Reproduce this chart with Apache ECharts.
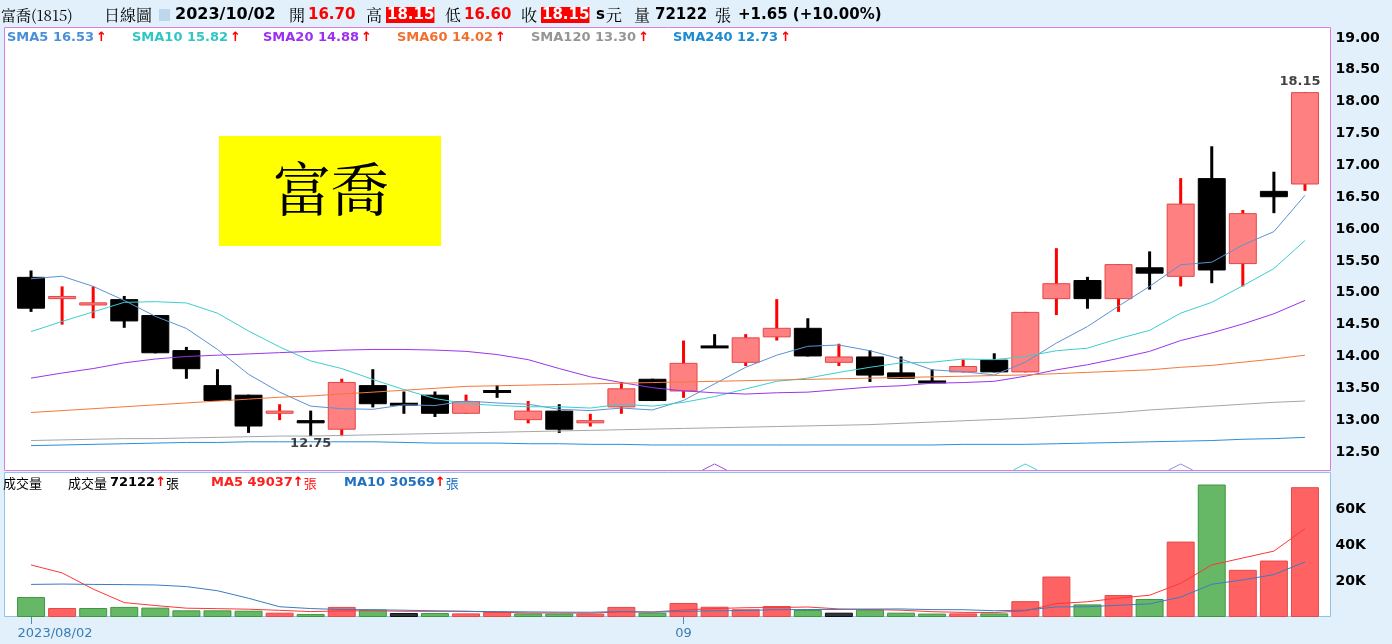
<!DOCTYPE html>
<html>
<head>
<meta charset="utf-8">
<script src="https://cdn.jsdelivr.net/npm/echarts@6.0.0/dist/echarts.min.js"></script>
<style>
html,body{margin:0;padding:0;background:#e1f0fb;}
#c{width:1392px;height:644px;}
</style>
</head>
<body>
<div id="c"></div>
<script>
// ---------------- data ----------------
const dates = ['2023/08/02','2023/08/04','2023/08/07','2023/08/08','2023/08/09','2023/08/10','2023/08/11',
  '2023/08/14','2023/08/15','2023/08/16','2023/08/17','2023/08/18','2023/08/21','2023/08/22','2023/08/23',
  '2023/08/24','2023/08/25','2023/08/28','2023/08/29','2023/08/30','2023/08/31',
  '2023/09/01','2023/09/04','2023/09/05','2023/09/06','2023/09/07','2023/09/08','2023/09/11','2023/09/12',
  '2023/09/13','2023/09/14','2023/09/15','2023/09/18','2023/09/19','2023/09/20','2023/09/21','2023/09/22',
  '2023/09/25','2023/09/26','2023/09/27','2023/09/28','2023/10/02'];
const opens  = [15.25,14.90,14.80,14.90,14.65,14.10,13.55,13.40,13.10,13.00,12.85,13.55,13.25,13.40,13.10,13.45,13.00,13.15,12.95,13.20,13.65,
                13.45,14.15,13.90,14.30,14.45,13.90,14.00,13.75,13.60,13.75,13.95,13.75,14.90,15.20,14.90,15.40,15.25,16.80,15.45,16.60,16.70];
const closes = [14.75,14.95,14.85,14.55,14.05,13.80,13.30,12.90,13.15,12.95,13.60,13.25,13.25,13.10,13.30,13.45,13.15,12.85,13.00,13.50,13.30,
                13.90,14.15,14.30,14.45,14.00,14.00,13.70,13.65,13.60,13.85,13.75,14.70,15.15,14.90,15.45,15.30,16.40,15.35,16.25,16.50,18.15];
const lows   = [14.70,14.50,14.60,14.45,14.05,13.65,13.30,12.80,13.00,12.75,12.75,13.20,13.10,13.05,13.10,13.35,12.95,12.80,12.90,13.10,13.30,
                13.35,14.15,13.85,14.25,14.00,13.85,13.60,13.65,13.60,13.75,13.75,13.75,14.65,14.75,14.70,15.05,15.10,15.15,15.10,16.25,16.60];
const highs  = [15.35,15.10,15.10,14.95,14.65,14.15,13.80,13.40,13.25,13.15,13.65,13.80,13.45,13.45,13.40,13.55,13.30,13.25,13.10,13.60,13.65,
                14.25,14.35,14.35,14.90,14.60,14.20,14.10,14.00,13.80,13.95,14.05,14.70,15.70,15.25,15.45,15.65,16.80,17.30,16.30,16.90,18.15];
const volumes = [11100,5000,5000,5600,5200,3700,3700,3500,2400,1700,5600,4100,2200,2200,2000,2800,2000,1900,1900,5600,2400,
                 7800,5700,4300,6100,3900,2400,4100,2400,1900,2000,2000,8800,22500,7000,12200,10000,41900,73600,26200,31363,72122];

const sma5   = [15.22,15.26,15.10,14.88,14.63,14.44,14.11,13.72,13.44,13.22,13.18,13.17,13.24,13.23,13.30,13.27,13.25,13.17,13.15,13.19,13.16,
                13.31,13.57,13.83,14.02,14.16,14.18,14.09,13.96,13.79,13.76,13.71,13.91,14.21,14.47,14.79,15.10,15.44,15.48,15.75,15.96,16.53];
const sma10  = [14.39,14.55,14.70,14.85,14.86,14.84,14.68,14.40,14.15,13.93,13.81,13.64,13.48,13.34,13.26,13.23,13.21,13.21,13.19,13.25,13.22,
                13.28,13.37,13.49,13.61,13.66,13.75,13.83,13.90,13.91,13.96,13.95,14.00,14.09,14.13,14.28,14.41,14.68,14.85,15.11,15.38,15.82];
const sma20  = [13.66,13.74,13.81,13.90,13.96,14.00,14.02,14.04,14.06,14.08,14.10,14.11,14.11,14.10,14.08,14.03,13.95,13.81,13.68,13.59,13.51,
                13.46,13.43,13.41,13.43,13.44,13.48,13.52,13.54,13.58,13.59,13.61,13.69,13.79,13.87,13.97,14.08,14.25,14.37,14.51,14.67,14.88];
const sma60  = [13.12,13.15,13.18,13.21,13.24,13.27,13.30,13.33,13.36,13.38,13.41,13.44,13.47,13.50,13.53,13.54,13.55,13.56,13.57,13.58,13.59,
                13.60,13.61,13.62,13.63,13.64,13.65,13.66,13.67,13.68,13.69,13.70,13.71,13.73,13.75,13.77,13.79,13.83,13.86,13.91,13.96,14.02];
const sma120 = [12.68,12.69,12.70,12.71,12.71,12.72,12.73,12.74,12.75,12.75,12.76,12.77,12.78,12.79,12.80,12.81,12.82,12.83,12.84,12.85,12.86,
                12.87,12.88,12.89,12.90,12.91,12.92,12.93,12.95,12.97,12.99,13.01,13.03,13.06,13.09,13.12,13.16,13.19,13.22,13.25,13.28,13.30];
const sma240 = [12.60,12.61,12.62,12.63,12.64,12.65,12.65,12.66,12.66,12.66,12.66,12.66,12.65,12.64,12.64,12.64,12.63,12.63,12.62,12.62,12.61,
                12.61,12.61,12.61,12.61,12.61,12.61,12.61,12.61,12.61,12.62,12.62,12.62,12.63,12.64,12.65,12.66,12.67,12.68,12.70,12.71,12.73];

const volMa5  = [28900,24500,15500,8000,6380,4900,4640,4340,3700,3000,3380,3460,3200,3160,3220,2660,2240,2180,2120,2840,2760,
                 3920,4680,5160,5260,5560,4480,4160,3780,2940,2560,2480,3420,7440,8460,10500,12100,18720,28940,32780,36613,49037];
const volMa10 = [18100,18300,18100,18000,17800,16900,14600,10400,5700,4690,4140,4050,3770,3430,3110,3020,2850,2690,2640,3030,2710,
                 3080,3430,3640,4050,4160,4200,4420,4470,4100,4060,3480,3790,5610,5700,6530,7290,11070,18190,20620,23556,30569];

const signalIdx = [22, 32, 37];           // small signal markers under the price panel
const priceMin = 12.5, priceMax = 19, priceStep = 0.5;
const volMin = 0, volMax = 80000, volStep = 20000;
const stockName = '富喬(1815)';
const bigTitle = '富喬';

// ---------------- styling ----------------
const N = dates.length, last = N - 1;
const LAT = '"DejaVu Sans", Verdana, sans-serif';
const CJK = '"Noto Sans CJK TC", "Noto Sans CJK SC", sans-serif';
const SERIF = '"Noto Serif CJK TC", "Noto Sans CJK TC", serif';
const C = {
  upFill:'#ff8080', upEdge:'#e54545', upWick:'#ff0000', dn:'#000000',
  sma5:'#5b93d3', sma10:'#3ccfcf', sma20:'#9a35ee', sma60:'#f27a3c', sma120:'#a6a6a6', sma240:'#2a8fd2',
  lg5:'#4a90d9', lg10:'#2fc6c6', lg20:'#9b30f0', lg60:'#f07030', lg120:'#959595', lg240:'#1d8bd1',
  volMa5:'#ff3636', volMa10:'#3b7bc4'
};
const signalColors = ['#a050e0', '#45d2d2', '#8d8fe0'];

const candleData = dates.map((d, i) => [i, opens[i], closes[i], lows[i], highs[i]]);

function renderCandle(params, api) {
  const i = api.value(0), o = api.value(1), c = api.value(2), l = api.value(3), h = api.value(4);
  const po = api.coord([i, o]), pc = api.coord([i, c]), pl = api.coord([i, l]), ph = api.coord([i, h]);
  const bw = api.size([1, 0])[0] * 0.9;
  const x = po[0];
  const up = c > o;
  const children = [];
  children.push({ type:'rect', shape:{ x:x - 1.5, y:ph[1], width:3, height:Math.max(pl[1] - ph[1], 0.1) },
                  style:{ fill: up ? C.upWick : C.dn } });
  if (Math.abs(c - o) < 1e-9) {
    children.push({ type:'rect', shape:{ x:x - bw / 2, y:po[1] - 1.5, width:bw, height:3 }, style:{ fill:C.dn } });
  } else {
    const top = Math.min(po[1], pc[1]), hh = Math.abs(po[1] - pc[1]);
    children.push({ type:'rect', shape:{ x:x - bw / 2 + 0.5, y:top + 0.5, width:bw - 1, height:Math.max(hh - 1, 1) },
                    style: up ? { fill:C.upFill, stroke:C.upEdge, lineWidth:1 } : { fill:C.dn, stroke:C.dn, lineWidth:1 } });
  }
  return { type:'group', children };
}

function renderSignal(params, api) {
  const i = api.value(0);
  const p = api.coord([i, priceMin]);
  const cs = params.coordSys;
  const yb = cs.y + cs.height + 18;
  return { type:'polyline', shape:{ points:[[p[0] - 12, yb], [p[0], yb - 6], [p[0] + 12, yb]] },
           style:{ stroke: signalColors[params.dataIndex % signalColors.length], fill:null, lineWidth:1 } };
}

const volData = volumes.map((v, i) => {
  const ref = i === 0 ? opens[0] : closes[i - 1];
  const d = Math.round((closes[i] - ref) * 100);
  const st = d > 0 ? { color:'#ff6262', borderColor:'#e44a4a' }
           : d < 0 ? { color:'#66b866', borderColor:'#3f983f' }
           : { color:'#30343c', borderColor:'#111111' };
  return { value:v, itemStyle:Object.assign({ borderWidth:1 }, st) };
});

const iMax = highs.indexOf(Math.max(...highs));
const iMin = lows.indexOf(Math.min(...lows));

function line(name, data, color, gi) {
  return { type:'line', name, data, xAxisIndex:gi, yAxisIndex:gi, symbol:'none', showSymbol:false,
           lineStyle:{ width:1, color }, itemStyle:{ color }, z:4, silent:true, animation:false };
}

function showTick(idx) {
  if (idx === 0) return true;
  return idx < N - 1 && dates[idx].slice(5, 7) !== dates[idx - 1].slice(5, 7);
}

// ---------------- header / legends (text) ----------------
const f2 = v => v.toFixed(2);
const chg = closes[last] - closes[last - 1];
const pct = chg / closes[last - 1] * 100;
function T(x, y, text, font, fill, extra) {
  return { type:'text', x, y, z:20,
           style:Object.assign({ text, font, fill, verticalAlign:'middle', textVerticalAlign:'middle', align:'left' }, extra || {}) };
}
const hy = 15;
const numFont = 'bold 15px ' + LAT;
const cjkFont = '16px ' + SERIF;
const graphics = [
  { type:'rect', z:0, shape:{ x:4.5, y:27.5, width:1326, height:443 }, style:{ fill:'#ffffff', stroke:'#dc7ee0', lineWidth:1 } },
  { type:'rect', z:0, shape:{ x:4.5, y:472.5, width:1326, height:144 }, style:{ fill:'#ffffff', stroke:'#8fc4e8', lineWidth:1 } },
  { type:'rect', z:1, shape:{ x:219, y:136, width:222, height:110 }, style:{ fill:'#ffff00' } },
  { type:'text', z:20, x:331, y:189, style:{ text:bigTitle, font:'58px ' + SERIF, fill:'#000',
      align:'center', textAlign:'center', verticalAlign:'middle', textVerticalAlign:'middle' } },
  T(1, hy, stockName, '15px ' + SERIF, '#000'),
  T(104, hy, '日線圖', cjkFont, '#000'),
  { type:'rect', z:20, shape:{ x:159, y:9, width:11, height:12 }, style:{ fill:'#bcd6ee' } },
  T(175, hy, dates[last], 'bold 16px ' + LAT, '#000'),
  T(289, hy, '開', cjkFont, '#000'),
  T(308, hy, f2(opens[last]), numFont, '#ff0000'),
  T(366, hy, '高', cjkFont, '#000'),
  T(386, hy, f2(highs[last]), numFont, '#ffffff', { backgroundColor:'#ff0000', padding:[1, 0, 0, 1] }),
  T(445, hy, '低', cjkFont, '#000'),
  T(464, hy, f2(lows[last]), numFont, '#ff0000'),
  T(521, hy, '收', cjkFont, '#000'),
  T(541, hy, f2(closes[last]), numFont, '#ffffff', { backgroundColor:'#ff0000', padding:[1, 0, 0, 1] }),
  T(596, hy, 's', numFont, '#000'),
  T(606, hy, '元', cjkFont, '#000'),
  T(634, hy, '量', cjkFont, '#000'),
  T(655, hy, String(volumes[last]), numFont, '#000'),
  T(715, hy, '張', cjkFont, '#000'),
  T(738, hy, (chg >= 0 ? '+' : '') + f2(chg) + ' (' + (pct >= 0 ? '+' : '') + f2(pct) + '%)', numFont, '#000')
];
const legendItems = [
  ['SMA5', sma5, C.lg5, 7], ['SMA10', sma10, C.lg10, 132], ['SMA20', sma20, C.lg20, 263],
  ['SMA60', sma60, C.lg60, 397], ['SMA120', sma120, C.lg120, 531], ['SMA240', sma240, C.lg240, 673]
];
legendItems.forEach(([n, arr, col, x]) => {
  const up = arr[last] >= arr[last - 1];
  graphics.push({ type:'text', z:20, x, y:37.5, style:{
    text:'{n|' + n + ' ' + f2(arr[last]) + '}{a|' + (up ? '↑' : '↓') + '}', verticalAlign:'middle', textVerticalAlign:'middle',
    rich:{ n:{ fill:col, font:'bold 13px ' + LAT }, a:{ fill:'#ff0000', font:'bold 13px ' + LAT, padding:[0, 0, 0, 2] } } } });
});
graphics.push({ type:'text', z:20, x:3, y:483, style:{ text:'成交量', font:'13px ' + CJK, fill:'#000', verticalAlign:'middle', textVerticalAlign:'middle' } });
graphics.push({ type:'text', z:20, x:68, y:483, style:{
  text:'{l|成交量 }{v|' + volumes[last] + '}{a|↑}{u|張}', verticalAlign:'middle', textVerticalAlign:'middle',
  rich:{ l:{ fill:'#000', font:'13px ' + CJK }, v:{ fill:'#000', font:'bold 13px ' + LAT },
         a:{ fill:'#ff0000', font:'bold 13px ' + LAT }, u:{ fill:'#000', font:'13px ' + CJK } } } });
graphics.push({ type:'text', z:20, x:211, y:483, style:{
  text:'{v|MA5 ' + volMa5[last] + '}{a|↑}{u|張}', verticalAlign:'middle', textVerticalAlign:'middle',
  rich:{ v:{ fill:'#ff2020', font:'bold 13px ' + LAT }, a:{ fill:'#ff0000', font:'bold 13px ' + LAT }, u:{ fill:'#ff2020', font:'13px ' + CJK } } } });
graphics.push({ type:'text', z:20, x:344, y:483, style:{
  text:'{v|MA10 ' + volMa10[last] + '}{a|↑}{u|張}', verticalAlign:'middle', textVerticalAlign:'middle',
  rich:{ v:{ fill:'#1f70c0', font:'bold 13px ' + LAT }, a:{ fill:'#ff0000', font:'bold 13px ' + LAT }, u:{ fill:'#1f70c0', font:'13px ' + CJK } } } });

// ---------------- chart ----------------
const chart = echarts.init(document.getElementById('c'), null, { renderer:'canvas' });
const yLabel = { color:'#000', fontWeight:'bold', fontSize:14, fontFamily:LAT, margin:15 };
chart.setOption({
  animation:false,
  backgroundColor:'#e1f0fb',
  graphic:{ elements:graphics },
  grid:[
    { left:15.5, right:71.5, top:38, height:414, containLabel:false, outerBoundsMode:'none' },
    { left:15.5, right:71.5, top:473, height:144, containLabel:false, outerBoundsMode:'none' }
  ],
  xAxis:[
    { type:'category', gridIndex:0, data:dates, boundaryGap:true, show:false },
    { type:'category', gridIndex:1, data:dates, boundaryGap:true,
      axisLine:{ show:false },
      axisTick:{ show:true, alignWithLabel:true, length:7, interval:(idx) => showTick(idx), lineStyle:{ color:'#4a8cc4' } },
      axisLabel:{ show:true, interval:(idx) => showTick(idx), margin:10, color:'#3a7db5', fontSize:13, fontFamily:LAT,
        formatter:(v, idx) => idx === 0 ? '{f|' + v + '}' : v.slice(5, 7),
        rich:{ f:{ padding:[0, 0, 0, 48], color:'#3a7db5', fontSize:13, fontFamily:LAT } } },
      splitLine:{ show:false } }
  ],
  yAxis:[
    { type:'value', gridIndex:0, position:'right', min:priceMin, max:priceMax, interval:priceStep, scale:true,
      axisLine:{ show:false }, axisTick:{ show:false }, splitLine:{ show:false },
      axisLabel:Object.assign({ formatter:v => v.toFixed(2) }, yLabel) },
    { type:'value', gridIndex:1, position:'right', min:volMin, max:volMax, interval:volStep,
      axisLine:{ show:false }, axisTick:{ show:false }, splitLine:{ show:false },
      axisLabel:Object.assign({ formatter:v => (v > volMin && v < volMax) ? (v / 1000) + 'K' : '' }, yLabel) }
  ],
  series:[
    { type:'custom', name:'K', xAxisIndex:0, yAxisIndex:0, data:candleData, renderItem:renderCandle,
      encode:{ x:0, y:[1, 2, 3, 4] }, z:3, silent:true, clip:false },
    line('SMA5', sma5, C.sma5, 0),
    line('SMA10', sma10, C.sma10, 0),
    line('SMA20', sma20, C.sma20, 0),
    line('SMA60', sma60, C.sma60, 0),
    line('SMA120', sma120, C.sma120, 0),
    line('SMA240', sma240, C.sma240, 0),
    { type:'custom', name:'signals', xAxisIndex:0, yAxisIndex:0, data:signalIdx.map(i => [i]),
      renderItem:renderSignal, encode:{ x:0 }, z:5, silent:true, clip:false },
    { type:'scatter', name:'extremes', xAxisIndex:0, yAxisIndex:0, symbolSize:0, z:6, silent:true, clip:false,
      label:{ show:true, color:'#111', fontWeight:'bold', fontSize:13, fontFamily:LAT, formatter:p => p.value[1].toFixed(2) },
      data:[ { value:[iMax, highs[iMax]], label:{ position:'top', distance:4, offset:[-5, 0] } },
             { value:[iMin, lows[iMin]], label:{ position:'bottom', distance:1 } } ] },
    { type:'bar', name:'量', xAxisIndex:1, yAxisIndex:1, data:volData, barWidth:'90%', z:2, silent:true },
    line('VMA5', volMa5, C.volMa5, 1),
    line('VMA10', volMa10, C.volMa10, 1)
  ]
});
</script>
</body>
</html>
